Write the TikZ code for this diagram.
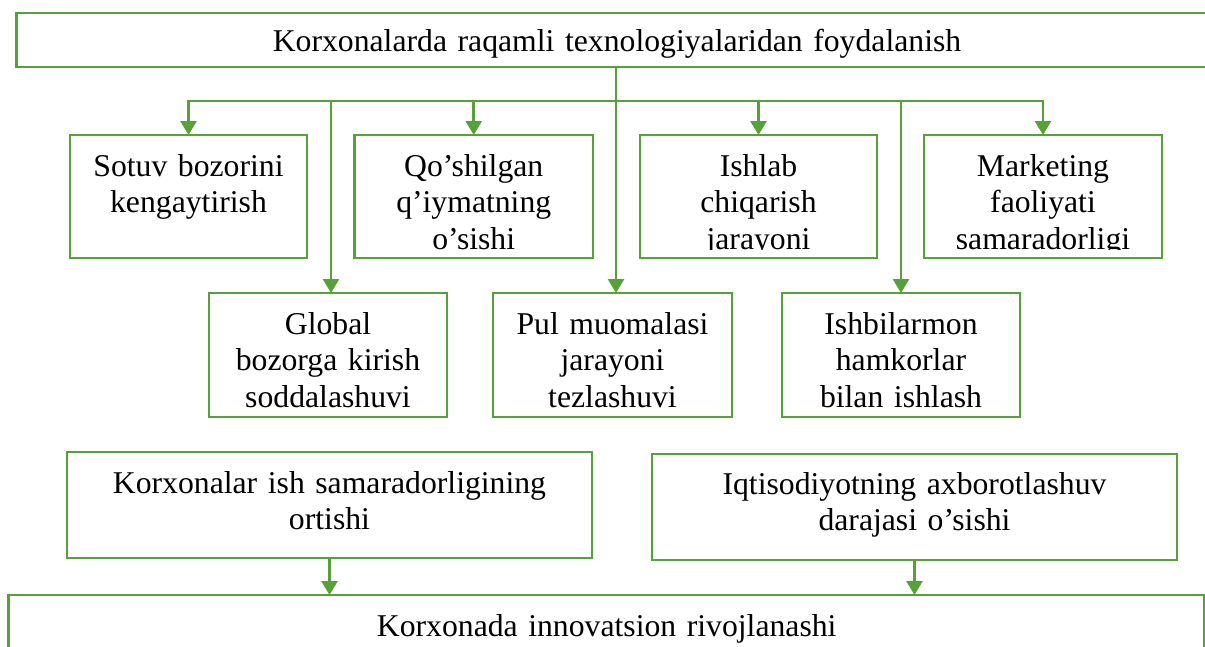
\documentclass[tikz,border=0pt]{standalone}
\usepackage{fontspec}
\setmainfont{Liberation Serif}
\usetikzlibrary{arrows.meta}
\definecolor{leaf}{RGB}{87,161,57}
\begin{document}
\begin{tikzpicture}[x=1pt,y=-1pt,
  box/.style={draw=leaf, line width=2.8pt, rectangle, inner sep=0pt, outer sep=0pt},
  lbl/.style={inner sep=0pt, anchor=base, align=center, text width=#1,
              font=\fontsize{31.7}{36.5}\selectfont},
  lbl/.default=234pt,
  link/.style={draw=leaf, line width=2.8pt},
  arr/.style={link, -{Triangle[width=16pt,length=14pt]}}]
\useasboundingbox (0,0) rectangle (1205,646);

% frames
\node[box, minimum width=1191.4pt, minimum height=54pt]  (top)  at (612.3,40) {};
\node[box, minimum width=237pt,   minimum height=123pt]  (sotuv) at (188.5,196.5) {};
\node[box, minimum width=238.5pt, minimum height=123pt]  (qosh)  at (473.75,196.5) {};
\node[box, minimum width=237pt,   minimum height=123pt]  (ishlab) at (758.5,196.5) {};
\node[box, minimum width=238pt,   minimum height=123pt]  (mark)  at (1043,196.5) {};
\node[box, minimum width=238pt,   minimum height=124pt]  (glob)  at (328,355) {};
\node[box, minimum width=239pt,   minimum height=124pt]  (pul)   at (612.5,355) {};
\node[box, minimum width=238pt,   minimum height=124pt]  (hamk)  at (901,355) {};
\node[box, minimum width=525pt,   minimum height=106pt]  (korx)  at (329.5,505) {};
\node[box, minimum width=525pt,   minimum height=106pt]  (iqt)   at (914.5,507) {};
\node[box, minimum width=1195.3pt, minimum height=70pt]  (bot)   at (606.35,630) {};

% labels, each cut off at the inner margin of its frame
\node[lbl=900pt] (top-t) at (617,51) {Korxonalarda raqamli texnologiyalaridan foydalanish};
\begin{scope}
  \clip ([yshift=9pt]sotuv.south west) rectangle (sotuv.north east);
  \node[lbl] (sotuv-t) at ([yshift=-41pt]sotuv.north) {Sotuv bozorini\\kengaytirish};
\end{scope}
\begin{scope}
  \clip ([yshift=9pt]qosh.south west) rectangle (qosh.north east);
  \node[lbl] (qosh-t) at ([yshift=-41pt]qosh.north) {Qo’shilgan\\q’iymatning\\o’sishi};
\end{scope}
\begin{scope}
  \clip ([yshift=9pt]ishlab.south west) rectangle (ishlab.north east);
  \node[lbl] (ishlab-t) at ([yshift=-41pt]ishlab.north) {Ishlab\\chiqarish\\jarayoni};
\end{scope}
\begin{scope}
  \clip ([yshift=9pt]mark.south west) rectangle (mark.north east);
  \node[lbl] (mark-t) at ([yshift=-41pt]mark.north) {Marketing\\faoliyati\\samaradorligi};
\end{scope}
\begin{scope}
  \clip ([yshift=10pt]glob.south west) rectangle (glob.north east);
  \node[lbl] (glob-t) at ([yshift=-41pt]glob.north) {Global\\bozorga kirish\\soddalashuvi};
\end{scope}
\begin{scope}
  \clip ([yshift=10pt]pul.south west) rectangle (pul.north east);
  \node[lbl] (pul-t) at ([yshift=-41pt]pul.north) {Pul muomalasi\\jarayoni\\tezlashuvi};
\end{scope}
\begin{scope}
  \clip ([yshift=10pt]hamk.south west) rectangle (hamk.north east);
  \node[lbl] (hamk-t) at ([yshift=-41pt]hamk.north) {Ishbilarmon\\hamkorlar\\bilan ishlash};
\end{scope}
\node[lbl=500pt] (korx-t) at ([yshift=-41pt]korx.north) {Korxonalar ish samaradorligining\\ortishi};
\node[lbl=500pt] (iqt-t) at ([yshift=-40pt]iqt.north) {Iqtisodiyotning axborotlashuv\\darajasi o’sishi};
\node[lbl=900pt] (bot-t) at (606.7,636) {Korxonada innovatsion rivojlanashi};

% connectors
\coordinate (bar) at (0,101);
\coordinate (trunk) at (616,0);
\coordinate (gdrop) at (331,0);
\draw[arr] (top.south -| trunk) -- (pul.north -| trunk);
\draw[link, line cap=rect] (bar -| sotuv.north) -- (bar -| mark.north);
\draw[arr] (bar -| sotuv.north) -- (sotuv.north);
\draw[arr] (bar -| gdrop) -- (glob.north -| gdrop);
\draw[arr] (bar -| qosh.north) -- (qosh.north);
\draw[arr] (bar -| ishlab.north) -- (ishlab.north);
\draw[arr] (bar -| hamk.north) -- (hamk.north);
\draw[arr] (bar -| mark.north) -- (mark.north);
\draw[arr] (korx.south) -- (bot.north -| korx.south);
\draw[arr] (iqt.south) -- (bot.north -| iqt.south);
\end{tikzpicture}
\end{document}
